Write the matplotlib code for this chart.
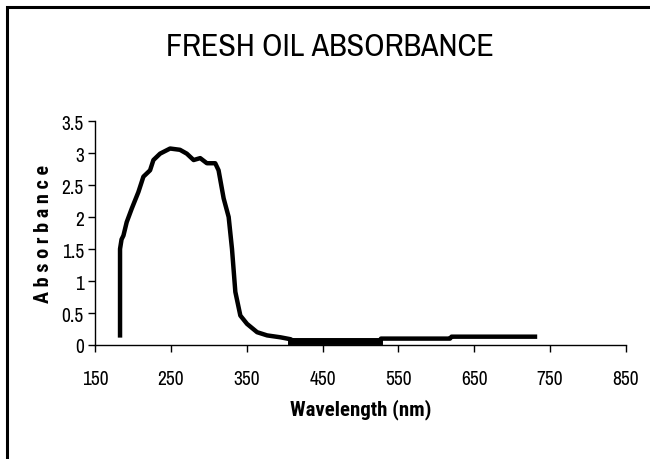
import matplotlib
matplotlib.use("Agg")
import matplotlib.pyplot as plt
from matplotlib.patches import Rectangle

# spectrum (nm, absorbance)
wavelength = [183, 183, 185, 187.5, 191.8, 198.4, 207.2, 213.8, 222.6, 227, 235.8,
              249, 262, 271, 280, 288.7, 297.5, 308.5, 312.9, 319.6, 326.2,
              330.6, 335, 341.6, 350.4, 363.7, 376.9, 394.6, 407.8, 412,
              450, 500, 525, 527, 600, 618, 620, 680, 730]
absorbance = [0.15, 1.5, 1.65, 1.71, 1.92, 2.13, 2.39, 2.63, 2.73, 2.89, 2.99,
              3.07, 3.05, 2.99, 2.89, 2.92, 2.84, 2.84, 2.73, 2.29, 2.0,
              1.5, 0.83, 0.46, 0.33, 0.2, 0.15, 0.12, 0.09, 0.06,
              0.06, 0.06, 0.06, 0.1, 0.1, 0.1, 0.13, 0.13, 0.13]

xticks = [150, 250, 350, 450, 550, 650, 750, 850]
yticks = [0, 0.5, 1, 1.5, 2, 2.5, 3, 3.5]
ytick_labels = ["0", "0.5", "1", "1.5", "2", "2.5", "3", "3.5"]

plt.rcParams['font.family'] = ['Archivo Narrow', 'Liberation Sans', 'DejaVu Sans']
bold_font = ['Roboto Condensed', 'PT Sans Narrow', 'Liberation Sans']

fig = plt.figure(figsize=(6.5, 4.6), dpi=100)
ax = fig.add_axes([95/650, 1-346/460, (626-95)/650, (346-122)/460])

ax.plot(wavelength, absorbance, color='black', lw=3.2, solid_joinstyle='round')
# noisy flat part drawn thicker
ax.plot([408, 525], [0.06, 0.06], color='black', lw=5)

ax.set_xlim(150, 850)
ax.set_ylim(0, 3.5)
ax.set_xticks(xticks)
ax.set_xticklabels([str(t) for t in xticks])
ax.set_yticks(yticks)
ax.set_yticklabels(ytick_labels)
ax.tick_params(direction='out', length=5, width=1, labelsize=14, colors='black')
ax.tick_params(axis='x', pad=12)
ax.tick_params(axis='y', pad=3)
ax.spines['top'].set_visible(False)
ax.spines['right'].set_visible(False)
for s in ['left', 'bottom']:
    ax.spines[s].set_linewidth(1)

ax.set_xlabel("Wavelength (nm)", fontsize=15, fontweight='bold', family=bold_font, labelpad=8)
ax.set_ylabel("A b s o r b a n c e", fontsize=14.5, fontweight='bold', family=bold_font, labelpad=6)

fig.text(330/650, 1-47/460, "FRESH OIL ABSORBANCE", fontsize=23, fontweight='medium',
         ha='center', va='center')

# outer frame (only left and top visible)
fig.patches.append(Rectangle((7/650, -0.1), 1.2, 1-8/460+0.1, transform=fig.transFigure,
                             fill=False, lw=2.2, edgecolor='black'))

fig.savefig("out.png", dpi=100)
